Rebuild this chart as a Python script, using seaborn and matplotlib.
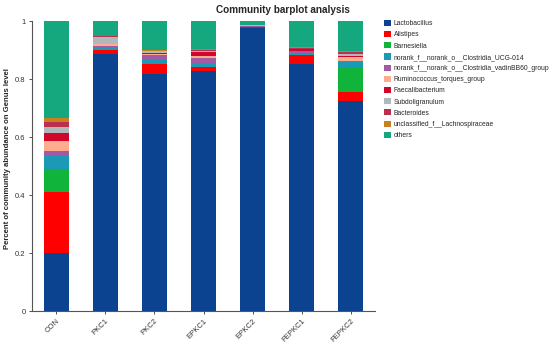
import matplotlib
matplotlib.use("Agg")
import matplotlib.pyplot as plt
import pandas as pd
import seaborn as sns
from matplotlib.patches import Patch

SAMPLES = ["CON", "PKC1", "PKC2", "EPKC1", "EPKC2", "FEPKC1", "FEPKC2"]
GENERA = ["Lactobacillus", "Alistipes", "Barnesiella",
          "norank_f__norank_o__Clostridia_UCG-014",
          "norank_f__norank_o__Clostridia_vadinBB60_group",
          "Ruminococcus_torques_group", "Faecalibacterium", "Subdoligranulum",
          "Bacteroides", "unclassified_f__Lachnospiraceae", "others"]
COLORS = ["#0b4391", "#fe0000", "#10b43a", "#1b9ab5", "#a459a4", "#ffab8e",
          "#d0062a", "#b1b8bb", "#bb2f4f", "#c8811e", "#15a77d"]

lactobacillus = [0.200, 0.886, 0.817, 0.828, 0.978, 0.851, 0.725]
alistipes = [0.210, 0.014, 0.037, 0.013, 0.002, 0.032, 0.030]
barnesiella = [0.080, 0.002, 0.002, 0.001, 0.000, 0.002, 0.087]
ucg014 = [0.044, 0.008, 0.012, 0.012, 0.001, 0.006, 0.018]
vadinbb60 = [0.017, 0.005, 0.014, 0.020, 0.002, 0.005, 0.004]
ruminococcus = [0.037, 0.005, 0.006, 0.005, 0.001, 0.003, 0.011]
faecalibacterium = [0.028, 0.003, 0.004, 0.015, 0.001, 0.004, 0.006]
subdoligranulum = [0.018, 0.022, 0.004, 0.004, 0.001, 0.002, 0.006]
bacteroides = [0.018, 0.003, 0.002, 0.003, 0.001, 0.003, 0.008]
lachnospiraceae = [0.015, 0.002, 0.004, 0.005, 0.001, 0.003, 0.004]
others = [0.333, 0.050, 0.098, 0.094, 0.012, 0.089, 0.101]

SERIES = [lactobacillus, alistipes, barnesiella, ucg014, vadinbb60, ruminococcus,
          faecalibacterium, subdoligranulum, bacteroides, lachnospiraceae, others]


def main():
    df = pd.DataFrame({g: v for g, v in zip(GENERA, SERIES)}, index=SAMPLES)
    cum = df.cumsum(axis=1)

    sns.set_style("ticks")
    plt.rcParams["font.family"] = ["Liberation Sans", "DejaVu Sans"]

    fig = plt.figure(figsize=(5.5, 3.43), dpi=100)
    ax = fig.add_axes([0.058, 0.093, 0.624, 0.845])

    # stacked bars: draw cumulative totals from the top layer down
    for genus, color in reversed(list(zip(GENERA, COLORS))):
        sns.barplot(x=SAMPLES, y=cum[genus].values, color=color, width=0.5,
                    saturation=1, linewidth=0, ax=ax)

    ax.set_xlim(-0.5, 6.5)
    ax.set_ylim(0, 1)
    ax.set_yticks([0, 0.2, 0.4, 0.6, 0.8, 1], ["0", "0.2", "0.4", "0.6", "0.8", "1"])
    ax.set_xticks(range(len(SAMPLES)), SAMPLES, rotation=45, ha="right",
                  rotation_mode="anchor")
    ax.tick_params(labelsize=5.5, length=2.5, width=0.6, colors="#333333", pad=2)
    for side in ("top", "right"):
        ax.spines[side].set_visible(False)
    for side in ("left", "bottom"):
        ax.spines[side].set_color("#555555")
        ax.spines[side].set_linewidth(0.8)
    ax.set_ylabel("Percent of community abundance on Genus level",
                  fontsize=5.6, fontweight="bold")
    ax.yaxis.set_label_coords(-0.062, 0.525)
    ax.set_xlabel("")

    fig.suptitle("Community barplot analysis", x=0.515, y=0.985,
                 fontsize=7.2, fontweight="bold")

    handles = [Patch(facecolor=c, edgecolor="none") for c in COLORS]
    fig.legend(handles, GENERA, loc="upper left", bbox_to_anchor=(0.699, 0.942),
               frameon=False, fontsize=4.9, handlelength=1.0, handleheight=1.0,
               handletextpad=0.35, labelspacing=0.56, borderaxespad=0,
               borderpad=0)

    plt.savefig("out.png", dpi=100)
    plt.close()


if __name__ == "__main__":
    main()
